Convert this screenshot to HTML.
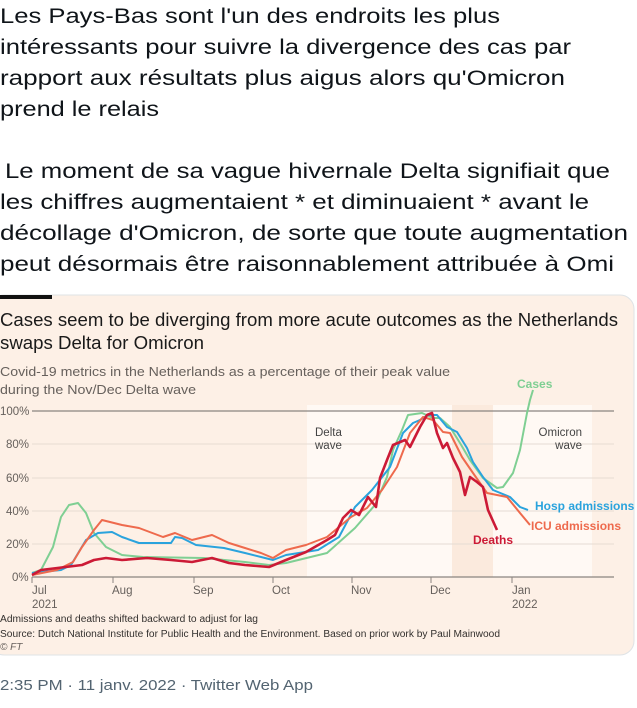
<!DOCTYPE html>
<html><head><meta charset="utf-8"><style>
html,body{margin:0;padding:0;background:#fff;width:637px;height:708px;overflow:hidden}
svg{display:block}
</style></head><body>
<svg width="637" height="708" viewBox="0 0 637 708" xmlns="http://www.w3.org/2000/svg" font-family="Liberation Sans, sans-serif">
<g font-size="21.5" fill="#0f1419">
<text x="0" y="23" textLength="500" lengthAdjust="spacingAndGlyphs">Les Pays-Bas sont l'un des endroits les plus</text>
<text x="0" y="54" textLength="571" lengthAdjust="spacingAndGlyphs">intéressants pour suivre la divergence des cas par</text>
<text x="0" y="85" textLength="565" lengthAdjust="spacingAndGlyphs">rapport aux résultats plus aigus alors qu'Omicron</text>
<text x="0" y="116" textLength="159" lengthAdjust="spacingAndGlyphs">prend le relais</text>
<text x="5" y="178" textLength="605" lengthAdjust="spacingAndGlyphs">Le moment de sa vague hivernale Delta signifiait que</text>
<text x="0" y="209" textLength="589" lengthAdjust="spacingAndGlyphs">les chiffres augmentaient * et diminuaient * avant le</text>
<text x="0" y="240" textLength="628" lengthAdjust="spacingAndGlyphs">décollage d'Omicron, de sorte que toute augmentation</text>
<text x="0" y="271" textLength="614" lengthAdjust="spacingAndGlyphs">peut désormais être raisonnablement attribuée à Omi</text>
</g>
<rect x="-10" y="295" width="644" height="360" rx="14" fill="#fdf0e6" stroke="#dfe3e6"/>
<rect x="0" y="295" width="52" height="4" fill="#111"/>
<text x="0" y="326" font-size="18.5" fill="#1a1a1a" textLength="618" lengthAdjust="spacingAndGlyphs">Cases seem to be diverging from more acute outcomes as the Netherlands</text>
<text x="0" y="349" font-size="18.5" fill="#1a1a1a" textLength="204" lengthAdjust="spacingAndGlyphs">swaps Delta for Omicron</text>
<text x="0" y="376" font-size="13" fill="#66605c" textLength="450" lengthAdjust="spacingAndGlyphs">Covid-19 metrics in the Netherlands as a percentage of their peak value</text>
<text x="0" y="394" font-size="13" fill="#66605c" textLength="196" lengthAdjust="spacingAndGlyphs">during the Nov/Dec Delta wave</text>
<rect x="307" y="405" width="145" height="172" fill="#fff9f4"/>
<rect x="452" y="405" width="41" height="172" fill="#fbeadd"/>
<rect x="493" y="405" width="99" height="172" fill="#fff9f4"/>
<g stroke="#e6dcd3" stroke-width="1">
<line x1="32" y1="444" x2="614" y2="444"/><line x1="32" y1="478" x2="614" y2="478"/>
<line x1="32" y1="511" x2="614" y2="511"/><line x1="32" y1="544" x2="614" y2="544"/>
</g>
<line x1="32" y1="411" x2="614" y2="411" stroke="#8a8580" stroke-width="1.2"/>
<line x1="32" y1="577" x2="614" y2="577" stroke="#8a8580" stroke-width="1.2"/>
<g stroke="#8a8580"><line x1="32" y1="577" x2="32" y2="583"/><line x1="113" y1="577" x2="113" y2="583"/><line x1="194" y1="577" x2="194" y2="583"/><line x1="273" y1="577" x2="273" y2="583"/><line x1="352" y1="577" x2="352" y2="583"/><line x1="431" y1="577" x2="431" y2="583"/><line x1="512" y1="577" x2="512" y2="583"/></g>
<g font-size="11.5" fill="#66605c">
<text x="0" y="415">100%</text><text x="6" y="448">80%</text><text x="6" y="482">60%</text><text x="6" y="515">40%</text><text x="6" y="548">20%</text><text x="12" y="581">0%</text>
<text x="32" y="594">Jul</text><text x="32" y="608">2021</text><text x="112" y="594">Aug</text><text x="193" y="594">Sep</text><text x="272" y="594">Oct</text><text x="351" y="594">Nov</text><text x="430" y="594">Dec</text><text x="512" y="594">Jan</text><text x="512" y="608">2022</text>
<text x="315" y="436" fill="#444">Delta</text><text x="315" y="449" fill="#444">wave</text>
<text x="582" y="436" fill="#444" text-anchor="end">Omicron</text><text x="582" y="449" fill="#444" text-anchor="end">wave</text>
</g>
<g fill="none" stroke-linejoin="round" stroke-width="2">
<polyline stroke="#7fcf93" points="32,573 41,570 53,547 61,517 69,505 78,503 86,513 94,533 106,547 122,555 143,557 204,558 245,562 269,565 286,563 327,553 355,528 375,505 387,477 393,450 402,430 408,415 422,413 433,418 440,418 450,427 460,443 470,460 483,478 497,488 503,487 513,473 520,450 527,413 530,400 533,390"/>
<polyline stroke="#2aa3dd" points="32,573 61,570 71,565 86,540 98,533 112,532 122,537 139,543 171,543 175,537 182,538 196,545 224,548 245,553 265,558 273,560 286,555 318,550 339,537 355,507 372,490 390,467 403,433 413,423 420,420 428,415 437,415 447,427 457,432 467,448 473,462 483,477 493,490 510,497 520,507 528,510"/>
<polyline stroke="#ee6a4d" points="32,575 57,570 73,562 82,547 94,530 102,520 110,522 122,525 139,528 163,537 175,533 192,540 212,535 229,543 245,548 261,553 273,558 286,550 306,545 327,537 351,517 367,508 382,490 397,467 410,433 423,417 433,420 443,432 450,433 462,457 473,473 487,493 507,497 520,513 530,525"/>
<polyline stroke="#cc1a36" stroke-width="2.6" points="32,575 41,570 82,565 94,560 106,558 122,560 147,558 171,560 192,562 212,558 229,563 245,565 269,567 286,560 306,552 327,540 335,535 343,518 351,510 359,515 368,497 376,507 380,478 387,460 393,445 405,440 410,447 420,427 427,415 432,413 437,433 443,448 447,443 453,458 460,472 465,495 470,477 477,482 483,487 488,510 497,530"/>
</g>
<g font-size="12" font-weight="bold">
<text x="517" y="388" fill="#7fcf93">Cases</text>
<text x="535" y="510" fill="#2aa3dd">Hosp admissions</text>
<text x="531" y="530" fill="#ee6a4d">ICU admissions</text>
<text x="473" y="544" fill="#cc1a36">Deaths</text>
</g>
<g font-size="10" fill="#33302e">
<text x="0" y="622" textLength="258" lengthAdjust="spacingAndGlyphs">Admissions and deaths shifted backward to adjust for lag</text>
<text x="0" y="637" textLength="500" lengthAdjust="spacingAndGlyphs">Source: Dutch National Institute for Public Health and the Environment. Based on prior work by Paul Mainwood</text>
<text x="0" y="650" font-style="italic" fill="#66605c">© FT</text>
</g>
<text x="0" y="690" font-size="15" fill="#536471" textLength="313" lengthAdjust="spacingAndGlyphs">2:35 PM · 11 janv. 2022 · Twitter Web App</text>
</svg>
</body></html>
